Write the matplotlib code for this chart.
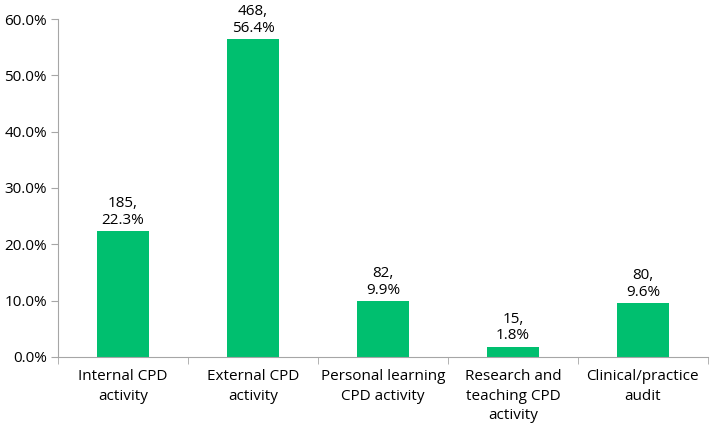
import matplotlib.pyplot as plt
from matplotlib.ticker import FuncFormatter, FixedLocator
import numpy as np

categories = ["Internal CPD\nactivity", "External CPD\nactivity", "Personal learning\nCPD activity",
              "Research and\nteaching CPD\nactivity", "Clinical/practice\naudit"]
counts = [185, 468, 82, 15, 80]
percents = [22.3, 56.4, 9.9, 1.8, 9.6]

plt.rcParams['font.family'] = ['Open Sans', 'DejaVu Sans']

fig = plt.figure(figsize=(7.11, 4.3), dpi=100)
ax = fig.add_axes([0.0816, 0.1698, 0.914, 0.786])

x = np.arange(len(categories))
bars = ax.bar(x, percents, width=0.4, color='#00BF6F')

for xi, c, p in zip(x, counts, percents):
    ax.text(xi, p + 0.6, f"{c},\n{p:.1f}%", ha='center', va='bottom', fontsize=11,
            linespacing=1.15)

ax.set_xlim(-0.5, len(categories) - 0.5)
ax.set_ylim(0, 60)
ax.set_yticks(np.arange(0, 61, 10))
ax.yaxis.set_major_formatter(FuncFormatter(lambda v, pos: f"{v:.1f}%"))
ax.set_xticks(x)
ax.set_xticklabels(categories, fontsize=11, linespacing=1.4)
ax.tick_params(axis='x', length=0, pad=9)
ax.xaxis.set_minor_locator(FixedLocator(np.arange(-0.5, len(categories), 1.0)))
ax.tick_params(axis='x', which='minor', length=5, color='#A6A6A6', direction='out')
ax.tick_params(axis='y', length=5, color='#A6A6A6', labelsize=11, pad=3)

for s in ['top', 'right']:
    ax.spines[s].set_visible(False)
for s in ['left', 'bottom']:
    ax.spines[s].set_color('#A6A6A6')

fig.savefig('out.png', dpi=100)
